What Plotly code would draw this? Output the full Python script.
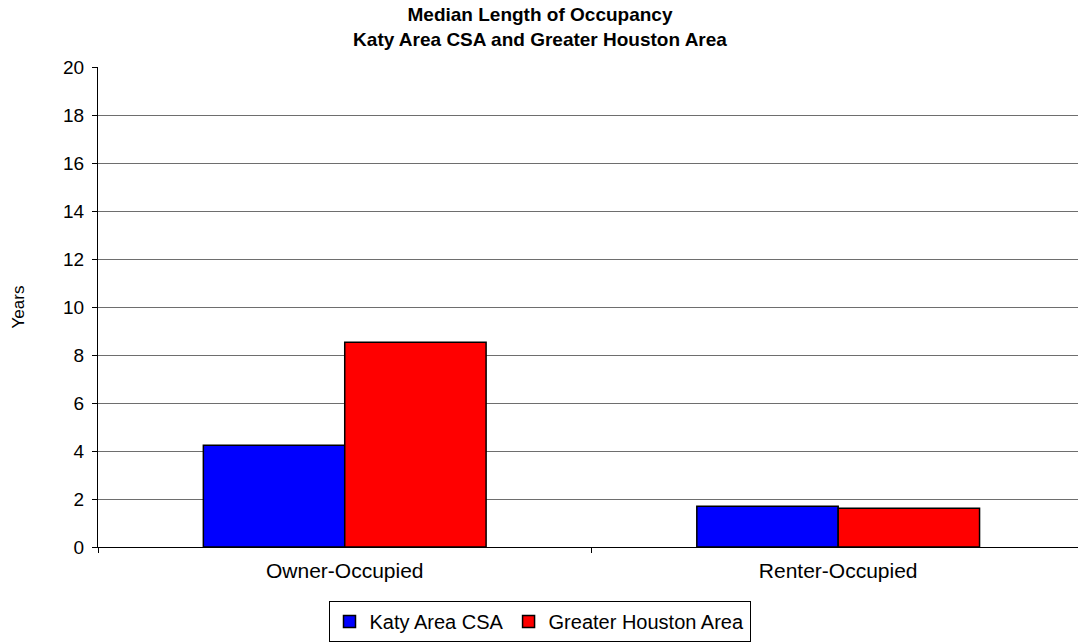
import plotly.graph_objects as go

categories = ["Owner-Occupied", "Renter-Occupied"]
series_names = ["Katy Area CSA", "Greater Houston Area"]
katy_values = [4.24, 1.70]
houston_values = [8.53, 1.61]
y_ticks = [0, 2, 4, 6, 8, 10, 12, 14, 16, 18, 20]

colors = ["#0000FF", "#FF0000"]
x_pos = list(range(len(categories)))

fig = go.Figure()
for name, vals, col in zip(series_names, [katy_values, houston_values], colors):
    fig.add_trace(go.Bar(
        x=x_pos, y=vals, name=name,
        marker=dict(color=col, line=dict(color="#000000", width=1.5)),
    ))

W, H = 1078, 643
ML, MR, MT, MB = 98, 0, 67, 96
plot_w = W - ML - MR

fig.update_layout(
    width=W, height=H,
    margin=dict(l=ML, r=MR, t=MT, b=MB, autoexpand=False),
    paper_bgcolor="white", plot_bgcolor="white",
    barmode="group", bargap=0.427, bargroupgap=0,
    font=dict(family="Liberation Sans, Arial, sans-serif", color="black"),
    title=dict(
        text="<b>Median Length of Occupancy<br>Katy Area CSA and Greater Houston Area</b>",
        x=(540 - ML) / plot_w, xref="paper", xanchor="center",
        y=1 - 21 / H, yref="container", yanchor="top",
        font=dict(size=19, color="black"),
        automargin=False,
    ),
    showlegend=True,
    legend=dict(
        orientation="h", x=(539.5 - ML) / plot_w, xanchor="center",
        y=-(601 - (H - MB)) / (H - MT - MB), yanchor="top",
        bordercolor="#000000", borderwidth=1,
        font=dict(size=20), itemwidth=30,
        traceorder="normal", tracegroupgap=0,
    ),
)

fig.update_xaxes(
    range=[-0.5, 1.486], automargin=False,
    tickmode="array", tickvals=x_pos, ticktext=categories,
    ticks="", showgrid=False,
    tickfont=dict(size=21), ticklabelstandoff=5,
    showline=True, linecolor="#000000", linewidth=1,
    minor=dict(tickmode="array", tickvals=[-0.5, 0.5], ticks="outside",
               ticklen=5, tickcolor="#000000", showgrid=False),
    zeroline=False,
)
fig.update_yaxes(
    range=[0, 20], automargin=False,
    tickmode="array", tickvals=y_ticks,
    ticks="outside", ticklen=5, tickcolor="#000000",
    showline=True, linecolor="#000000", linewidth=1,
    showgrid=True, gridcolor="#6e6e6e", gridwidth=1,
    tickfont=dict(size=19), ticklabelstandoff=4,
    title=dict(text="Years", font=dict(size=17), standoff=34),
    zeroline=False,
)

fig.write_html("out.html", config={"displayModeBar": False},
               post_script="document.body.style.margin='0px';")
